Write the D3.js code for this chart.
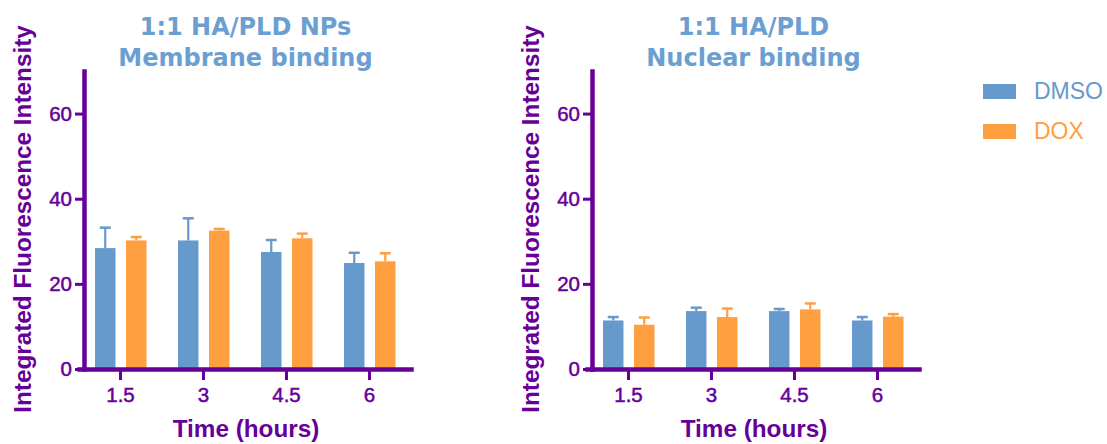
<!DOCTYPE html>
<html>
<head>
<meta charset="utf-8">
<script src="https://cdn.jsdelivr.net/npm/d3@7"></script>
<style>
  body { margin: 0; background: #fff; }
  svg { display: block; }
  .tick text { font-family: 'Liberation Sans', Arial, sans-serif; fill: #660099; }
</style>
</head>
<body>
<svg id="chart" width="1107" height="444"></svg>
<script>
// ------- Data -------
const times = ['1.5', '3', '4.5', '6'];
const groups = ['DMSO', 'DOX'];

const membraneDMSO = [28.4, 30.2, 27.5, 24.9];
const membraneDMSOErr = [4.8, 5.2, 2.8, 2.4];
const membraneDOX = [30.2, 32.5, 30.7, 25.3];
const membraneDOXErr = [0.8, 0.4, 1.1, 1.9];

const nuclearDMSO = [11.4, 13.6, 13.6, 11.4];
const nuclearDMSOErr = [0.8, 0.8, 0.5, 0.8];
const nuclearDOX = [10.4, 12.2, 14.0, 12.3];
const nuclearDOXErr = [1.7, 2.0, 1.4, 0.6];

const yTicks = [0, 20, 40, 60];

const purple = '#660099';
const colourScale = d3.scaleOrdinal().domain(groups).range(['#6699cc', '#ff9f40']);
const titleBlue = '#6b9fd2';

const svg = d3.select('#chart');

const rows = (dmso, dmsoErr, dox, doxErr) => times.flatMap((t, i) => [
    {time: t, group: 'DMSO', value: dmso[i], err: dmsoErr[i]},
    {time: t, group: 'DOX', value: dox[i], err: doxErr[i]}
]);

// ------- One panel -------
const panel = (parent, props) => {
    const {offset, titleLines, data} = props;

    const g = parent.append('g').attr('transform', `translate(${offset}, 0)`);

    const y = d3.scaleLinear().domain([0, 70]).range([369, 71]);
    const x = d3.scaleBand().domain(times).range([79, 411]);
    const x1 = d3.scaleBand().domain(groups).range([-25.5, 26]).paddingInner(0.34);

    // title
    g.selectAll('text.title')
        .data(titleLines)
        .enter()
        .append('text')
            .attr('class', 'title')
            .attr('x', 245.5)
            .attr('y', (d, i) => 35 + i * 31)
            .attr('text-anchor', 'middle')
            .attr('font-family', "'DejaVu Sans', sans-serif")
            .attr('font-weight', 'bold')
            .attr('font-size', 24)
            .attr('fill', titleBlue)
            .text(d => d);

    // bars
    const barG = g.append('g').attr('class', 'bars');
    const bar = barG.selectAll('g.bar')
        .data(data)
        .enter()
        .append('g')
            .attr('class', 'bar')
            .attr('transform', d => `translate(${x(d.time) + x.bandwidth() / 2 + x1(d.group)}, 0)`);

    bar.append('rect')
        .attr('width', x1.bandwidth())
        .attr('y', d => y(d.value))
        .attr('height', d => y(0) - y(d.value))
        .attr('fill', d => colourScale(d.group));

    // error bars (upper only)
    bar.append('line')
        .attr('x1', x1.bandwidth() / 2)
        .attr('x2', x1.bandwidth() / 2)
        .attr('y1', d => y(d.value))
        .attr('y2', d => y(d.value + d.err))
        .attr('stroke', d => colourScale(d.group))
        .attr('stroke-width', 2.2);

    bar.append('line')
        .attr('x1', x1.bandwidth() / 2 - 5.5)
        .attr('x2', x1.bandwidth() / 2 + 5.5)
        .attr('y1', d => y(d.value + d.err))
        .attr('y2', d => y(d.value + d.err))
        .attr('stroke', d => colourScale(d.group))
        .attr('stroke-width', 2.5);

    // axes
    const yAxisG = g.append('g')
        .attr('transform', 'translate(84, 0)')
        .call(d3.axisLeft(y).tickValues(yTicks).tickSize(9).tickSizeOuter(0).tickPadding(3));

    const xAxisG = g.append('g')
        .attr('transform', 'translate(0, 369)')
        .call(d3.axisBottom(x).tickSize(11).tickSizeOuter(0).tickPadding(7.5));

    [yAxisG, xAxisG].forEach(a => {
        a.select('.domain')
            .attr('stroke', purple)
            .attr('stroke-width', 4.5)
            .attr('stroke-linecap', 'square');
        a.selectAll('.tick line')
            .attr('stroke', purple)
            .attr('stroke-width', 3);
        a.selectAll('.tick text')
            .attr('font-size', 20.5)
            .attr('fill', purple)
            .attr('stroke', purple)
            .attr('stroke-width', 0.5);
    });

    // axis titles
    g.append('text')
        .attr('transform', 'translate(31, 219) rotate(-90)')
        .attr('text-anchor', 'middle')
        .attr('font-family', "'Liberation Sans', Arial, sans-serif")
        .attr('font-weight', 'bold')
        .attr('font-size', 24.3)
        .attr('fill', purple)
        .text('Integrated Fluorescence Intensity');

    g.append('text')
        .attr('x', 246)
        .attr('y', 437)
        .attr('text-anchor', 'middle')
        .attr('font-family', "'Liberation Sans', Arial, sans-serif")
        .attr('font-weight', 'bold')
        .attr('font-size', 24.3)
        .attr('fill', purple)
        .text('Time (hours)');
};

panel(svg, {
    offset: 0,
    titleLines: ['1:1 HA/PLD NPs', 'Membrane binding'],
    data: rows(membraneDMSO, membraneDMSOErr, membraneDOX, membraneDOXErr)
});

panel(svg, {
    offset: 508,
    titleLines: ['1:1 HA/PLD', 'Nuclear binding'],
    data: rows(nuclearDMSO, nuclearDMSOErr, nuclearDOX, nuclearDOXErr)
});

// ------- Legend -------
const legend = svg.append('g').attr('class', 'legend');
const item = legend.selectAll('g.legend-item')
    .data(groups)
    .enter()
    .append('g')
        .attr('class', 'legend-item')
        .attr('transform', (d, i) => `translate(983, ${84 + i * 40})`);

item.append('rect')
    .attr('width', 33)
    .attr('height', 15)
    .attr('fill', colourScale);

item.append('text')
    .attr('x', 51)
    .attr('y', 15)
    .attr('font-family', "'Liberation Sans', Arial, sans-serif")
    .attr('font-size', 23)
    .attr('fill', colourScale)
    .text(d => d);
</script>
</body>
</html>
